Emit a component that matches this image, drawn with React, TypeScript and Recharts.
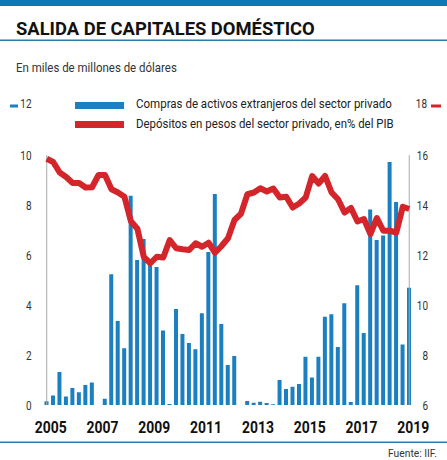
import React from 'react';
import { ComposedChart, Bar, Line, XAxis, YAxis, ReferenceLine } from 'recharts';

const quarters = [
  '2005Q1', '2005Q2', '2005Q3', '2005Q4', '2006Q1', '2006Q2', '2006Q3', '2006Q4',
  '2007Q1', '2007Q2', '2007Q3', '2007Q4', '2008Q1', '2008Q2', '2008Q3', '2008Q4',
  '2009Q1', '2009Q2', '2009Q3', '2009Q4', '2010Q1', '2010Q2', '2010Q3', '2010Q4',
  '2011Q1', '2011Q2', '2011Q3', '2011Q4', '2012Q1', '2012Q2', '2012Q3', '2012Q4',
  '2013Q1', '2013Q2', '2013Q3', '2013Q4', '2014Q1', '2014Q2', '2014Q3', '2014Q4',
  '2015Q1', '2015Q2', '2015Q3', '2015Q4', '2016Q1', '2016Q2', '2016Q3', '2016Q4',
  '2017Q1', '2017Q2', '2017Q3', '2017Q4', '2018Q1', '2018Q2', '2018Q3', '2018Q4',
  '2019Q1',
];

// compras de activos extranjeros, miles de millones USD
const compras = [
  0.15, 0.38, 1.32, 0.34, 0.68, 0.51, 0.8, 0.9,
  0, 0.25, 5.23, 3.36, 2.27, 8.37, 5.8, 6.64,
  5.6, 5.52, 2.98, 0.04, 3.84, 2.84, 2.48, 2.23,
  3.67, 6.12, 8.44, 3.24, 1.6, 1.96, 0, 0.16,
  0.09, 0.13, 0.08, 0.03, 1.0, 0.64, 0.73, 0.84,
  1.93, 1.1, 1.93, 3.53, 3.63, 2.32, 4.07, 0.12,
  4.79, 2.88, 7.82, 6.6, 6.78, 9.72, 8.12, 2.42,
  4.69,
];

// depositos en pesos, % del PIB
const depositos = [
  15.85, 15.72, 15.3, 15.12, 14.88, 14.88, 14.7, 14.71,
  15.2, 15.2, 14.63, 14.5, 14.33, 13.35, 13.05, 11.92,
  11.67, 11.93, 11.9, 12.6, 12.27, 12.23, 12.2, 12.47,
  12.33, 12.49, 12.09, 12.36, 12.67, 13.4, 13.65, 14.43,
  14.5, 14.67, 14.54, 14.66, 14.3, 14.33, 13.9, 14.06,
  14.3, 15.16, 14.86, 15.16, 14.5, 14.23, 13.7, 13.88,
  13.34, 13.44, 12.84, 13.48, 12.97, 12.97, 12.9, 13.93,
  13.84,
];

const leftTicks = [0, 2, 4, 6, 8, 10, 12];
const rightTicks = [6, 8, 10, 12, 14, 16, 18];
const yearLabels = ['2005', '2007', '2009', '2011', '2013', '2015', '2017', '2019'];

const data = quarters.map((q, i) => ({ q, compras: compras[i], depositos: depositos[i] }));

const BLUE = '#1b7fc0';
const RED = '#d4252b';
const FONT = 'Roboto, "Liberation Sans", sans-serif';

let ctx: CanvasRenderingContext2D | null = null;
const measure = (s: string, size: number, weight: string) => {
  if (!ctx) ctx = document.createElement('canvas').getContext('2d');
  if (!ctx) return s.length * size * 0.5;
  ctx.font = `${weight} ${size}px Roboto, "Liberation Sans", sans-serif`;
  return ctx.measureText(s).width;
};

// the source uses a condensed face; squeeze a normal one to the same width
const Squeezed = ({ x, y, w, text, size, weight = 'normal', anchor = 'start', fill = '#222' }: any) => {
  const k = Math.min(1, w / measure(text, size, weight));
  return (
    <text
      transform={`translate(${x},${y}) scale(${k},1)`}
      textAnchor={anchor}
      fontSize={size}
      fontWeight={weight}
      fontFamily={FONT}
      fill={fill}
    >
      {text}
    </text>
  );
};

const num = (x: number, y: number, s: string) => (
  <Squeezed x={x} y={y} w={s.length * 5.6} text={s} size={13} anchor="end" fill="#333" />
);

const LeftTick = (props: any) => {
  const { y, payload } = props;
  if (payload.value === 12) {
    return (
      <g>
        <rect x={10} y={y - 0.5} width={8} height={3} fill={BLUE} />
        {num(31.5, y + 3, '12')}
      </g>
    );
  }
  return num(31.5, y + 4.5, String(payload.value));
};

const RightTick = (props: any) => {
  const { y, payload } = props;
  if (payload.value === 18) {
    return (
      <g>
        {num(427, y + 3, '18')}
        <rect x={431} y={y - 0.5} width={10} height={3} fill={RED} />
      </g>
    );
  }
  return num(428, y + 4.5, String(payload.value));
};

const YearTick = (props: any) => {
  const { x, payload } = props;
  const v: string = payload.value;
  const year = v.slice(0, 4);
  if (!v.endsWith('Q1') || !yearLabels.includes(year)) return null;
  return <Squeezed x={x + 4} y={433} w={32} text={year} size={16} weight="bold" anchor="middle" fill="#111" />;
};

export default function App() {
  return (
    <div style={{ position: 'absolute', left: 0, top: 0, width: 447, height: 460, background: '#fff' }}>
      <ComposedChart
        width={447}
        height={460}
        data={data}
        margin={{ top: 105, bottom: 25, left: 3.5, right: 4.5 }}
        barCategoryGap={0}
      >
        <XAxis dataKey="q" height={30} axisLine={false} tickLine={false} interval={0} tick={<YearTick />} />
        <YAxis yAxisId="l" domain={[0, 12]} ticks={leftTicks} width={40} axisLine={false} tickLine={false} tick={<LeftTick />} />
        <YAxis yAxisId="r" orientation="right" domain={[6, 18]} ticks={rightTicks} width={30} axisLine={false} tickLine={false} tick={<RightTick />} />
        <ReferenceLine yAxisId="l" segment={[{ x: '2005Q1', y: 0 }, { x: '2005Q1', y: 10 }]} stroke="#aaa" strokeWidth={1} />
        <ReferenceLine yAxisId="r" segment={[{ x: '2019Q1', y: 6 }, { x: '2019Q1', y: 16 }]} stroke="#aaa" strokeWidth={1} />
        <Bar yAxisId="l" dataKey="compras" fill={BLUE} barSize={4} isAnimationActive={false} />
        <Line
          yAxisId="r"
          dataKey="depositos"
          type="linear"
          stroke={RED}
          strokeWidth={6}
          strokeLinejoin="round"
          dot={false}
          isAnimationActive={false}
        />
      </ComposedChart>
      <svg width={447} height={460} style={{ position: 'absolute', left: 0, top: 0, pointerEvents: 'none' }}>
        <rect x={0} y={0} width={447} height={6} fill="#0c78b8" />
        <Squeezed x={16} y={35} w={299} text="SALIDA DE CAPITALES DOMÉSTICO" size={19} weight="bold" fill="#111" />
        <rect x={0} y={39.5} width={447} height={1.5} fill="#2f7aab" />
        <Squeezed x={16} y={72} w={161} text="En miles de millones de dólares" size={12.5} fill="#333" />
        <rect x={75} y={102} width={49} height={7} fill={BLUE} />
        <Squeezed x={136} y={108} w={256} text="Compras de activos extranjeros del sector privado" size={13.5} />
        <rect x={75} y={121} width={49} height={7} fill={RED} />
        <Squeezed x={136} y={128} w={258} text="Depósitos en pesos del sector privado, en% del PIB" size={13.5} />
        <rect x={0} y={441.5} width={447} height={1.5} fill="#2f7aab" />
        <Squeezed x={437} y={457} w={49} text="Fuente: IIF." size={11.5} anchor="end" fill="#333" />
      </svg>
    </div>
  );
}
